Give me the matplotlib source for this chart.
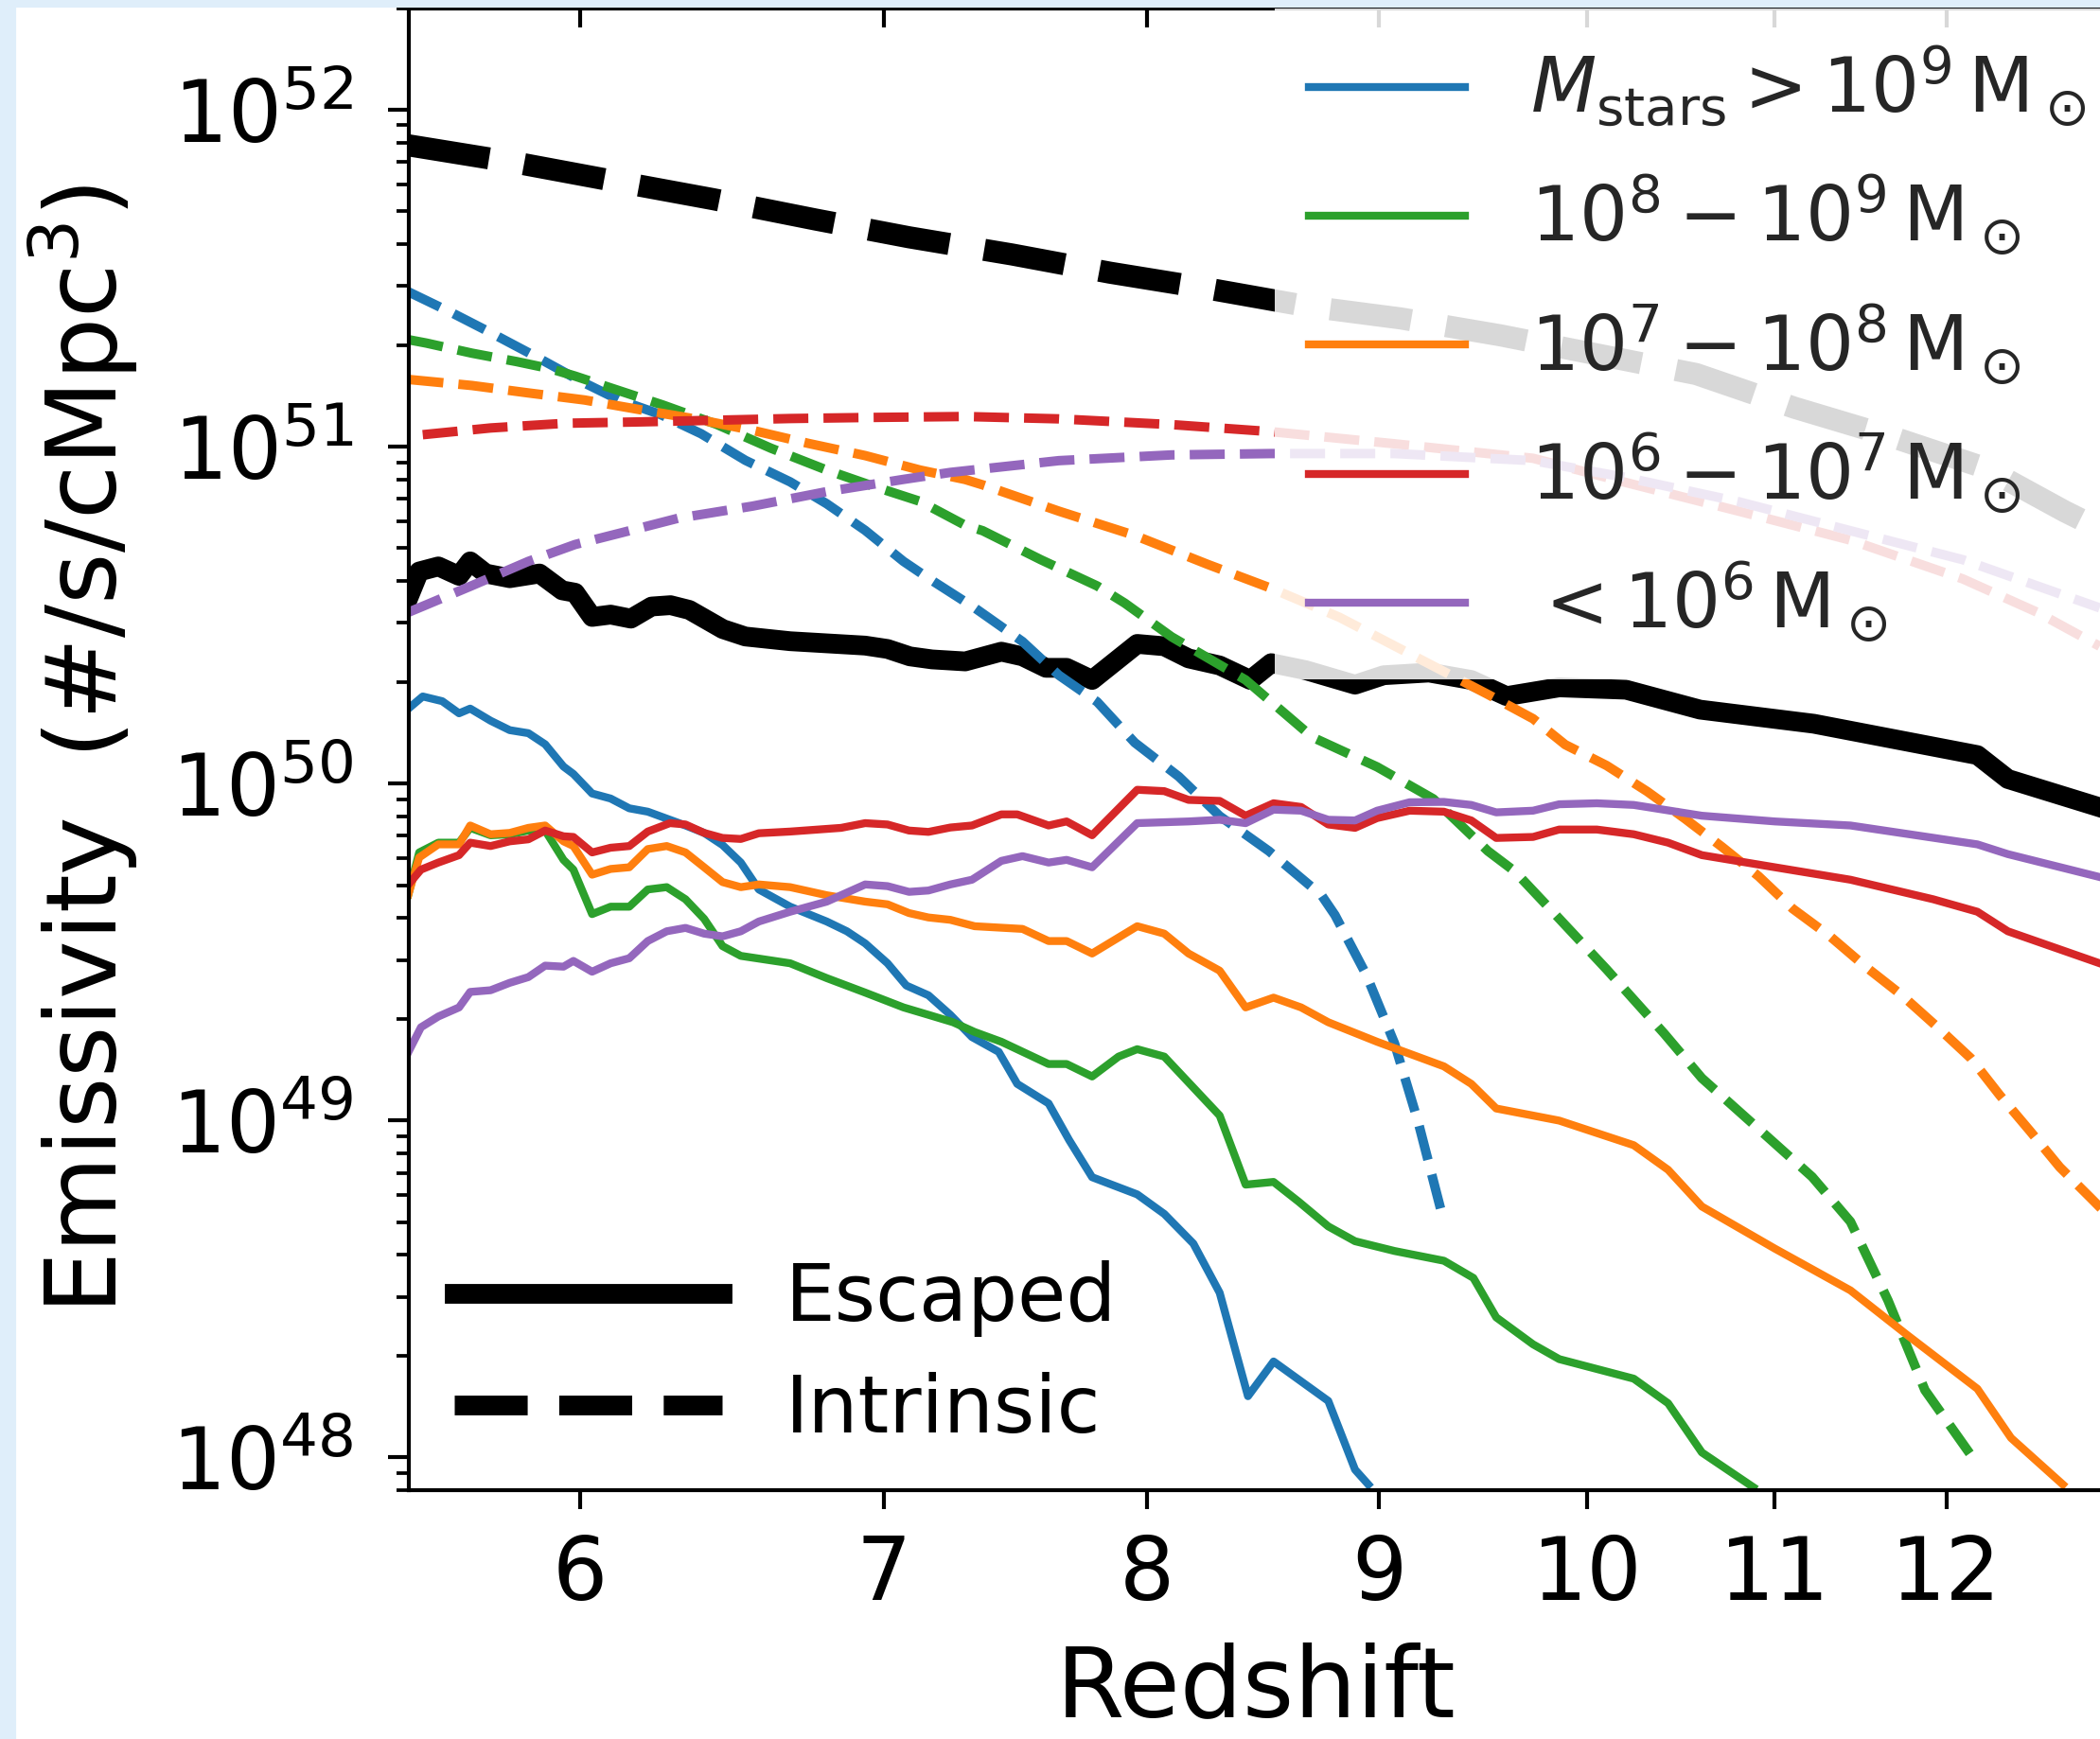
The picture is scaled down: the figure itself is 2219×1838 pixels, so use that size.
import matplotlib
matplotlib.use('Agg')
import matplotlib.pyplot as plt
import matplotlib.lines as mlines
import matplotlib.ticker as ticker
from matplotlib.patches import Rectangle
import numpy as np

# all values: redshift and log10(emissivity [#/s/cMpc^3])

# totals over all galaxies
z_tot_esc = [5.5, 5.53, 5.584, 5.643, 5.675, 5.72, 5.79, 5.878, 5.946, 5.985,
             6.037, 6.094, 6.157, 6.222, 6.282, 6.342, 6.451, 6.525, 6.675, 6.934,
             7.013, 7.093, 7.173, 7.295, 7.43, 7.51, 7.60, 7.68, 7.78, 7.96,
             8.07, 8.17, 8.30, 8.43, 8.52, 8.67, 8.89, 9.02, 9.23, 9.43,
             9.6, 9.86, 10.2, 10.59, 11.22, 12.19, 12.38, 12.97]
lg_tot_esc = [50.552, 50.63, 50.645, 50.617, 50.66, 50.624, 50.61, 50.624, 50.574, 50.567,
              50.495, 50.502, 50.49, 50.526, 50.53, 50.516, 50.459, 50.437, 50.423, 50.41,
              50.40, 50.378, 50.369, 50.363, 50.392, 50.378, 50.344, 50.344, 50.308, 50.415,
              50.408, 50.372, 50.351, 50.308, 50.358, 50.337, 50.294, 50.322, 50.33, 50.308,
              50.26, 50.286, 50.279, 50.22, 50.178, 50.085, 50.014, 49.93]

z_tot_int = [5.5, 5.81, 6.1, 6.42, 6.76, 7.09, 7.47, 7.85, 8.24, 8.68,
             9.1, 9.57, 10.57, 11.11, 11.67, 12.24, 12.74, 13.0]
lg_tot_int = [51.895, 51.843, 51.79, 51.735, 51.675, 51.622, 51.571, 51.517, 51.471, 51.417,
              51.381, 51.331, 51.216, 51.116, 51.03, 50.937, 50.809, 50.75]

# stellar mass bins: escaped (solid)
z_m9_esc = [5.5, 5.54, 5.595, 5.643, 5.675, 5.734, 5.79, 5.845, 5.895, 5.95,
            5.98, 6.037, 6.094, 6.152, 6.21, 6.33, 6.39, 6.45, 6.51, 6.57,
            6.675, 6.80, 6.87, 6.934, 7.013, 7.08, 7.16, 7.24, 7.32, 7.42,
            7.49, 7.61, 7.69, 7.78, 7.96, 8.07, 8.19, 8.30, 8.42, 8.53,
            8.77, 8.89, 8.95]
lg_m9_esc = [50.223, 50.259, 50.245, 50.209, 50.223, 50.187, 50.159, 50.15, 50.117, 50.051,
             50.029, 49.971, 49.956, 49.927, 49.917, 49.876, 49.854, 49.818, 49.766, 49.686,
             49.635, 49.591, 49.562, 49.526, 49.467, 49.401, 49.372, 49.314, 49.248, 49.204,
             49.109, 49.051, 48.942, 48.832, 48.781, 48.723, 48.635, 48.489, 48.182, 48.285,
             48.168, 47.964, 47.92]

z_m8_esc = [5.5, 5.53, 5.584, 5.643, 5.675, 5.734, 5.79, 5.845, 5.895, 5.95,
            5.98, 6.037, 6.094, 6.152, 6.21, 6.27, 6.33, 6.39, 6.45, 6.51,
            6.675, 6.80, 6.934, 7.07, 7.16, 7.25, 7.33, 7.43, 7.61, 7.68,
            7.78, 7.885, 7.96, 8.07, 8.30, 8.41, 8.53, 8.64, 8.77, 8.89,
            9.07, 9.30, 9.44, 9.55, 9.73, 9.86, 10.24, 10.42, 10.6, 10.88]
lg_m8_esc = [49.672, 49.796, 49.825, 49.825, 49.869, 49.847, 49.85, 49.861, 49.861, 49.774,
             49.745, 49.613, 49.635, 49.635, 49.686, 49.693, 49.657, 49.599, 49.518, 49.489,
             49.467, 49.423, 49.38, 49.336, 49.314, 49.292, 49.263, 49.234, 49.168, 49.168,
             49.131, 49.19, 49.212, 49.19, 49.015, 48.81, 48.818, 48.759, 48.686, 48.642,
             48.613, 48.584, 48.533, 48.416, 48.336, 48.292, 48.234, 48.161, 48.015, 47.912]

z_m7_esc = [5.5, 5.53, 5.584, 5.643, 5.675, 5.734, 5.79, 5.845, 5.895, 5.95,
            5.98, 6.037, 6.094, 6.152, 6.21, 6.27, 6.33, 6.39, 6.45, 6.51,
            6.57, 6.675, 6.80, 6.934, 7.013, 7.09, 7.16, 7.24, 7.33, 7.51,
            7.61, 7.68, 7.78, 7.96, 8.07, 8.17, 8.30, 8.41, 8.53, 8.65,
            8.77, 8.99, 9.30, 9.43, 9.55, 9.73, 9.86, 10.24, 10.42, 10.6,
            11.0, 11.43, 11.76, 12.19, 12.4, 12.73]
lg_m7_esc = [49.672, 49.781, 49.82, 49.82, 49.876, 49.85, 49.854, 49.869, 49.876, 49.829,
             49.815, 49.73, 49.747, 49.752, 49.806, 49.815, 49.796, 49.752, 49.708, 49.693,
             49.701, 49.693, 49.669, 49.65, 49.642, 49.616, 49.603, 49.596, 49.577, 49.569,
             49.533, 49.533, 49.496, 49.577, 49.555, 49.496, 49.445, 49.336, 49.365, 49.336,
             49.292, 49.234, 49.161, 49.109, 49.036, 49.015, 49.0, 48.927, 48.854, 48.745,
             48.62, 48.496, 48.365, 48.204, 48.058, 47.92]

z_m6_esc = [5.5, 5.535, 5.584, 5.643, 5.675, 5.734, 5.79, 5.845, 5.895, 5.95,
            5.98, 6.037, 6.094, 6.152, 6.21, 6.28, 6.33, 6.39, 6.45, 6.51,
            6.57, 6.675, 6.85, 6.934, 7.013, 7.09, 7.16, 7.24, 7.32, 7.43,
            7.49, 7.61, 7.68, 7.78, 7.96, 8.07, 8.17, 8.30, 8.41, 8.53,
            8.65, 8.77, 8.89, 8.99, 9.14, 9.30, 9.43, 9.55, 9.73, 9.86,
            10.05, 10.24, 10.42, 10.6, 11.0, 11.43, 11.92, 12.19, 12.38, 12.97]
lg_m6_esc = [49.701, 49.745, 49.766, 49.788, 49.825, 49.815, 49.829, 49.835, 49.861, 49.844,
             49.842, 49.796, 49.81, 49.815, 49.858, 49.883, 49.879, 49.854, 49.839, 49.836,
             49.853, 49.858, 49.869, 49.883, 49.879, 49.861, 49.857, 49.87, 49.876, 49.909,
             49.909, 49.876, 49.888, 49.847, 49.982, 49.978, 49.952, 49.949, 49.905, 49.942,
             49.931, 49.879, 49.869, 49.898, 49.92, 49.917, 49.891, 49.839, 49.842, 49.864,
             49.864, 49.85, 49.825, 49.788, 49.752, 49.715, 49.657, 49.62, 49.562, 49.467]

z_m5_esc = [5.5, 5.535, 5.584, 5.643, 5.675, 5.734, 5.79, 5.845, 5.895, 5.95,
            5.98, 6.037, 6.094, 6.152, 6.21, 6.27, 6.33, 6.39, 6.45, 6.51,
            6.57, 6.675, 6.80, 6.934, 7.013, 7.09, 7.16, 7.24, 7.32, 7.43,
            7.51, 7.61, 7.68, 7.78, 7.96, 8.17, 8.30, 8.41, 8.53, 8.65,
            8.77, 8.89, 8.99, 9.14, 9.30, 9.43, 9.55, 9.73, 9.86, 10.05,
            10.24, 10.6, 11.0, 11.43, 12.19, 12.38, 12.97]
lg_m5_esc = [49.204, 49.277, 49.309, 49.336, 49.382, 49.387, 49.409, 49.426, 49.46, 49.457,
             49.474, 49.442, 49.467, 49.482, 49.533, 49.562, 49.572, 49.555, 49.547, 49.562,
             49.591, 49.62, 49.65, 49.701, 49.696, 49.679, 49.683, 49.701, 49.715, 49.771,
             49.785, 49.766, 49.774, 49.752, 49.883, 49.888, 49.893, 49.883, 49.923, 49.92,
             49.893, 49.891, 49.92, 49.945, 49.946, 49.937, 49.915, 49.92, 49.939, 49.942,
             49.937, 49.905, 49.888, 49.876, 49.82, 49.791, 49.723]

# stellar mass bins: intrinsic (dashed)
z_m9_int = [5.5, 5.626, 5.734, 5.867, 6.0, 6.12, 6.25, 6.38, 6.525, 6.675,
            6.80, 6.934, 7.07, 7.16, 7.33, 7.51, 7.65, 7.80, 7.95, 8.13,
            8.30, 8.51, 8.74, 8.80, 8.94, 9.07, 9.18, 9.30]
lg_m9_int = [51.46, 51.396, 51.339, 51.268, 51.196, 51.139, 51.096, 51.039, 50.96, 50.896,
             50.831, 50.752, 50.66, 50.61, 50.522, 50.422, 50.322, 50.243, 50.122, 50.021,
             49.904, 49.80, 49.669, 49.61, 49.434, 49.229, 48.994, 48.70]

z_m8_int = [5.5, 5.55, 5.68, 5.81, 5.91, 5.985, 6.094, 6.258, 6.43, 6.61,
            6.80, 6.97, 7.13, 7.295, 7.36, 7.58, 7.80, 7.91, 8.10, 8.41,
            8.70, 8.99, 9.25, 9.51, 9.64, 9.82, 10.1, 10.4, 10.6, 10.9,
            11.21, 11.43, 11.65, 11.87, 12.19]
lg_m8_int = [51.318, 51.308, 51.278, 51.253, 51.232, 51.21, 51.175, 51.124, 51.067, 50.996,
             50.931, 50.881, 50.838, 50.767, 50.751, 50.665, 50.587, 50.536, 50.436, 50.308,
             50.138, 50.05, 49.955, 49.80, 49.74, 49.625, 49.449, 49.258, 49.126, 48.98,
             48.833, 48.70, 48.466, 48.20, 47.98]

z_m7_int = [5.5, 5.68, 5.845, 6.014, 6.187, 6.366, 6.549, 6.738, 6.934, 7.13,
            7.295, 7.36, 7.65, 7.95, 8.25, 8.52, 8.82, 9.16, 9.51, 9.73,
            9.89, 10.1, 10.31, 10.51, 10.71, 10.91, 11.1, 11.31, 11.52, 11.73,
            11.94, 12.15, 12.33, 12.52, 12.71, 12.91, 13.0]
lg_m7_int = [51.2, 51.182, 51.16, 51.139, 51.11, 51.082, 51.049, 51.01, 50.974, 50.931,
             50.903, 50.887, 50.809, 50.737, 50.651, 50.58, 50.494, 50.379, 50.265, 50.193,
             50.116, 50.054, 49.977, 49.896, 49.812, 49.725, 49.629, 49.548, 49.456, 49.373,
             49.28, 49.185, 49.075, 48.969, 48.862, 48.771, 48.73]

z_m6_int = [5.54, 5.734, 5.957, 6.187, 6.43, 6.675, 6.934, 7.295, 7.65, 8.10,
            8.52, 9.07, 9.73, 10.2, 10.8, 11.43, 12.1, 12.57, 12.97]
lg_m6_int = [51.036, 51.056, 51.07, 51.074, 51.079, 51.084, 51.087, 51.09, 51.083, 51.066,
             51.045, 51.009, 50.966, 50.894, 50.809, 50.723, 50.608, 50.508, 50.408]

z_m5_int = [5.5, 5.55, 5.68, 5.845, 5.985, 6.128, 6.306, 6.549, 6.80, 7.067,
            7.24, 7.65, 8.10, 8.52, 9.07, 9.73, 10.2, 10.8, 11.43, 12.1,
            12.97]
lg_m5_int = [50.509, 50.531, 50.588, 50.66, 50.71, 50.745, 50.788, 50.824, 50.867, 50.903,
             50.924, 50.959, 50.976, 50.98, 50.98, 50.959, 50.909, 50.837, 50.751, 50.665,
             50.522]

bin_labels = [r'$M_{\rm stars}>10^9\,{\rm M}_\odot$',
              r'$10^8-10^9\,{\rm M}_\odot$',
              r'$10^7-10^8\,{\rm M}_\odot$',
              r'$10^6-10^7\,{\rm M}_\odot$',
              r'$<10^6\,{\rm M}_\odot$']
bin_colors = ['C0', 'C2', 'C1', 'C3', 'C4']
xticks = [6, 7, 8, 9, 10, 11, 12]

esc_bins = [(z_m9_esc, lg_m9_esc), (z_m8_esc, lg_m8_esc), (z_m7_esc, lg_m7_esc),
            (z_m6_esc, lg_m6_esc), (z_m5_esc, lg_m5_esc)]
int_bins = [(z_m9_int, lg_m9_int), (z_m8_int, lg_m8_int), (z_m7_int, lg_m7_int),
            (z_m6_int, lg_m6_int), (z_m5_int, lg_m5_int)]

fig = plt.figure(figsize=(2219 / 300, 1838 / 300), dpi=300)
# the reference is a screenshot: thin light-blue page background on the left/top
fig.patches.append(Rectangle((0, 0), 15 / 2219, 1, transform=fig.transFigure,
                             color='#dfeefa', zorder=0))
fig.patches.append(Rectangle((0, 1 - 6 / 1838), 1, 6 / 1838, transform=fig.transFigure,
                             color='#dfeefa', zorder=0))

ax = fig.add_axes([0.1945, 0.1431, 0.8075, 0.852])

ax.plot(z_tot_esc, 10 ** np.array(lg_tot_esc), color='k', lw=5.0)
ax.plot(z_tot_int, 10 ** np.array(lg_tot_int), color='k', lw=5.6, ls='--')

handles = []
for (ze, le), (zi, li), col, lab in zip(esc_bins, int_bins, bin_colors, bin_labels):
    h, = ax.plot(ze, 10 ** np.array(le), color=col, lw=2.0, label=lab)
    ax.plot(zi, 10 ** np.array(li), color=col, lw=2.4, ls='--')
    handles.append(h)

ax.set_xscale('log')
ax.set_yscale('log')
ax.set_xlim(5.5, 13.0)
ax.set_ylim(8e47, 2e52)

ax.xaxis.set_major_locator(ticker.FixedLocator(xticks))
ax.xaxis.set_major_formatter(ticker.FuncFormatter(lambda v, p: f'{v:g}'))
ax.xaxis.set_minor_locator(ticker.NullLocator())

ax.tick_params(axis='x', which='major', top=True, direction='out', length=4.8,
               width=1.0, labelsize=22, pad=6)
ax.tick_params(axis='y', which='major', direction='out', length=5.4, width=1.0,
               labelsize=21.5, pad=8.5)
ax.tick_params(axis='y', which='minor', direction='out', length=3.2, width=0.9)
# top ticks point into the axes, bottom ones out
for t in ax.xaxis.get_major_ticks():
    t.tick2line.set_marker(mlines.TICKDOWN)

for s in ax.spines.values():
    s.set_linewidth(1.0)

ax.set_xlabel('Redshift', fontsize=25, labelpad=6)
ax.set_ylabel(r'Emissivity $\;(\#/{\rm s/cMpc^3})$', fontsize=25, labelpad=8)

leg1 = ax.legend(handles, bin_labels, loc='upper left', bbox_to_anchor=(0.511, 1.0),
                 borderaxespad=0, fontsize=19.3, framealpha=0.85, edgecolor='none',
                 fancybox=False, labelspacing=0.56, handlelength=2.05, borderpad=0.45,
                 handletextpad=0.85)
for txt in leg1.get_texts():
    txt.set_color('0.15')
ax.add_artist(leg1)

h_esc = mlines.Line2D([], [], color='k', lw=5)
h_int = mlines.Line2D([], [], color='k', lw=5, ls='--')
ax.legend([h_esc, h_int], ['Escaped', 'Intrinsic'], loc='center left',
          bbox_to_anchor=(0.027, 0.0915), frameon=False, fontsize=20,
          handlelength=3.4, labelspacing=0.45, borderpad=0, borderaxespad=0,
          handletextpad=0.8)

fig.savefig('out.png', dpi=300)
